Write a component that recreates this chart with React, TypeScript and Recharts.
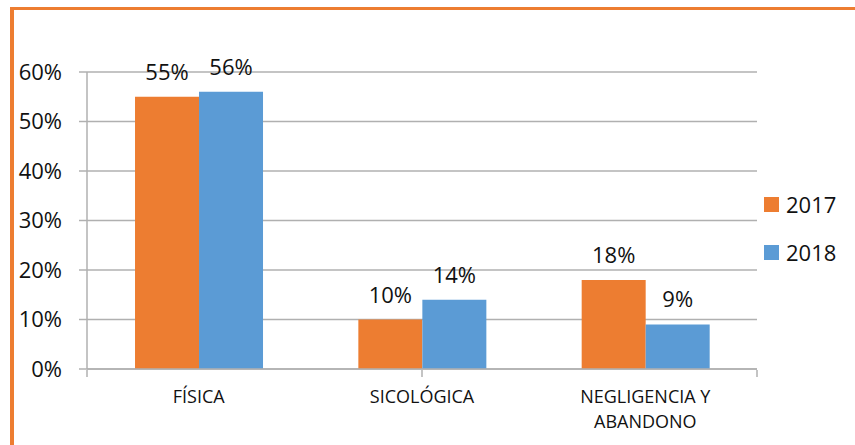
import React from "react";
import {
  BarChart,
  Bar,
  XAxis,
  YAxis,
  CartesianGrid,
  Legend,
  LabelList,
} from "recharts";

const categories = ["FÍSICA", "SICOLÓGICA", "NEGLIGENCIA Y ABANDONO"];
const values2017 = [55, 10, 18];
const values2018 = [56, 14, 9];
const yTicks = [0, 10, 20, 30, 40, 50, 60];
const edgeTicks = [0, 1, 2, 3];

const ORANGE = "#ED7D31";
const BLUE = "#5B9BD5";
const GRID = "#B0B0B0";
const TEXT = "#111111";
const FONT = "'Open Sans', 'Noto Sans', sans-serif";

const data = categories.map((name, i) => ({
  name,
  y2017: values2017[i],
  y2018: values2018[i],
}));

// naive word wrap, the long category breaks onto two lines
function wrap(label: string, max = 14) {
  const lines: string[] = [];
  let cur = "";
  for (const w of label.split(" ")) {
    const next = cur ? `${cur} ${w}` : w;
    if (next.length > max && cur) {
      lines.push(cur);
      cur = w;
    } else {
      cur = next;
    }
  }
  if (cur) lines.push(cur);
  return lines;
}

function CategoryTick(props: any) {
  const { x, y, payload } = props;
  const lines = wrap(String(payload.value));
  return (
    <text x={x} y={y + 26} textAnchor="middle" fill={TEXT} fontSize={18} fontFamily={FONT}>
      {lines.map((l, i) => (
        <tspan key={i} x={x} dy={i === 0 ? 0 : 25}>
          {l}
        </tspan>
      ))}
    </text>
  );
}

// boundary axis: only the little tick marks, no text
function NoLabel() {
  return <g />;
}

function LegendBox(props: any) {
  const { payload } = props;
  return (
    <div>
      {(payload || []).map((p: any) => (
        <div
          key={p.value}
          style={{ display: "flex", alignItems: "center", height: 48, fontSize: 22, color: TEXT, fontFamily: FONT }}
        >
          <span style={{ width: 15, height: 15, background: p.color, marginRight: 7, display: "inline-block" }} />
          <span>{p.value}</span>
        </div>
      ))}
    </div>
  );
}

export default function App() {
  return (
    <div
      style={{
        position: "absolute",
        left: 0,
        top: 0,
        width: 855,
        height: 445,
        background: "#fff",
        fontFamily: FONT,
        overflow: "hidden",
      }}
    >
      <div
        style={{
          position: "absolute",
          left: 10,
          top: 7,
          right: 0,
          bottom: 0,
          borderTop: `3px solid ${ORANGE}`,
          borderLeft: `4px solid ${ORANGE}`,
        }}
      />
      <BarChart
        width={855}
        height={445}
        data={data}
        margin={{ top: 72, right: 98, bottom: 0, left: 0 }}
        barCategoryGap="21.5%"
        barGap={0}
        style={{ position: "absolute", left: 0, top: 0 }}
      >
        <CartesianGrid xAxisId="cat" stroke={GRID} strokeWidth={1.5} vertical={false} />
        <XAxis
          xAxisId="edge"
          type="number"
          domain={[0, 3]}
          allowDataOverflow
          ticks={edgeTicks}
          tick={<NoLabel />}
          axisLine={false}
          tickLine={{ stroke: GRID, strokeWidth: 1.5 }}
          tickSize={7}
          height={75}
        />
        <XAxis
          xAxisId="cat"
          dataKey="name"
          tick={<CategoryTick />}
          tickLine={false}
          axisLine={{ stroke: GRID, strokeWidth: 1.5 }}
          interval={0}
          height={1}
        />
        <YAxis
          domain={[0, 60]}
          ticks={yTicks}
          tickFormatter={(v: number) => `${v}%`}
          tick={{ fill: TEXT, fontSize: 22 }}
          axisLine={{ stroke: GRID, strokeWidth: 1.5 }}
          tickLine={{ stroke: GRID, strokeWidth: 1.5 }}
          tickSize={8}
          tickMargin={17}
          width={87}
        />
        <Legend
          layout="vertical"
          align="center"
          verticalAlign="middle"
          content={<LegendBox />}
          wrapperStyle={{ left: 764, top: 180, width: 90 }}
        />
        <Bar xAxisId="cat" dataKey="y2017" name="2017" fill={ORANGE} isAnimationActive={false}>
          <LabelList
            dataKey="y2017"
            position="top"
            offset={17}
            formatter={(v: any) => `${v}%`}
            fill={TEXT}
            fontSize={22}
          />
        </Bar>
        <Bar xAxisId="cat" dataKey="y2018" name="2018" fill={BLUE} isAnimationActive={false}>
          <LabelList
            dataKey="y2018"
            position="top"
            offset={17}
            formatter={(v: any) => `${v}%`}
            fill={TEXT}
            fontSize={22}
          />
        </Bar>
      </BarChart>
    </div>
  );
}
